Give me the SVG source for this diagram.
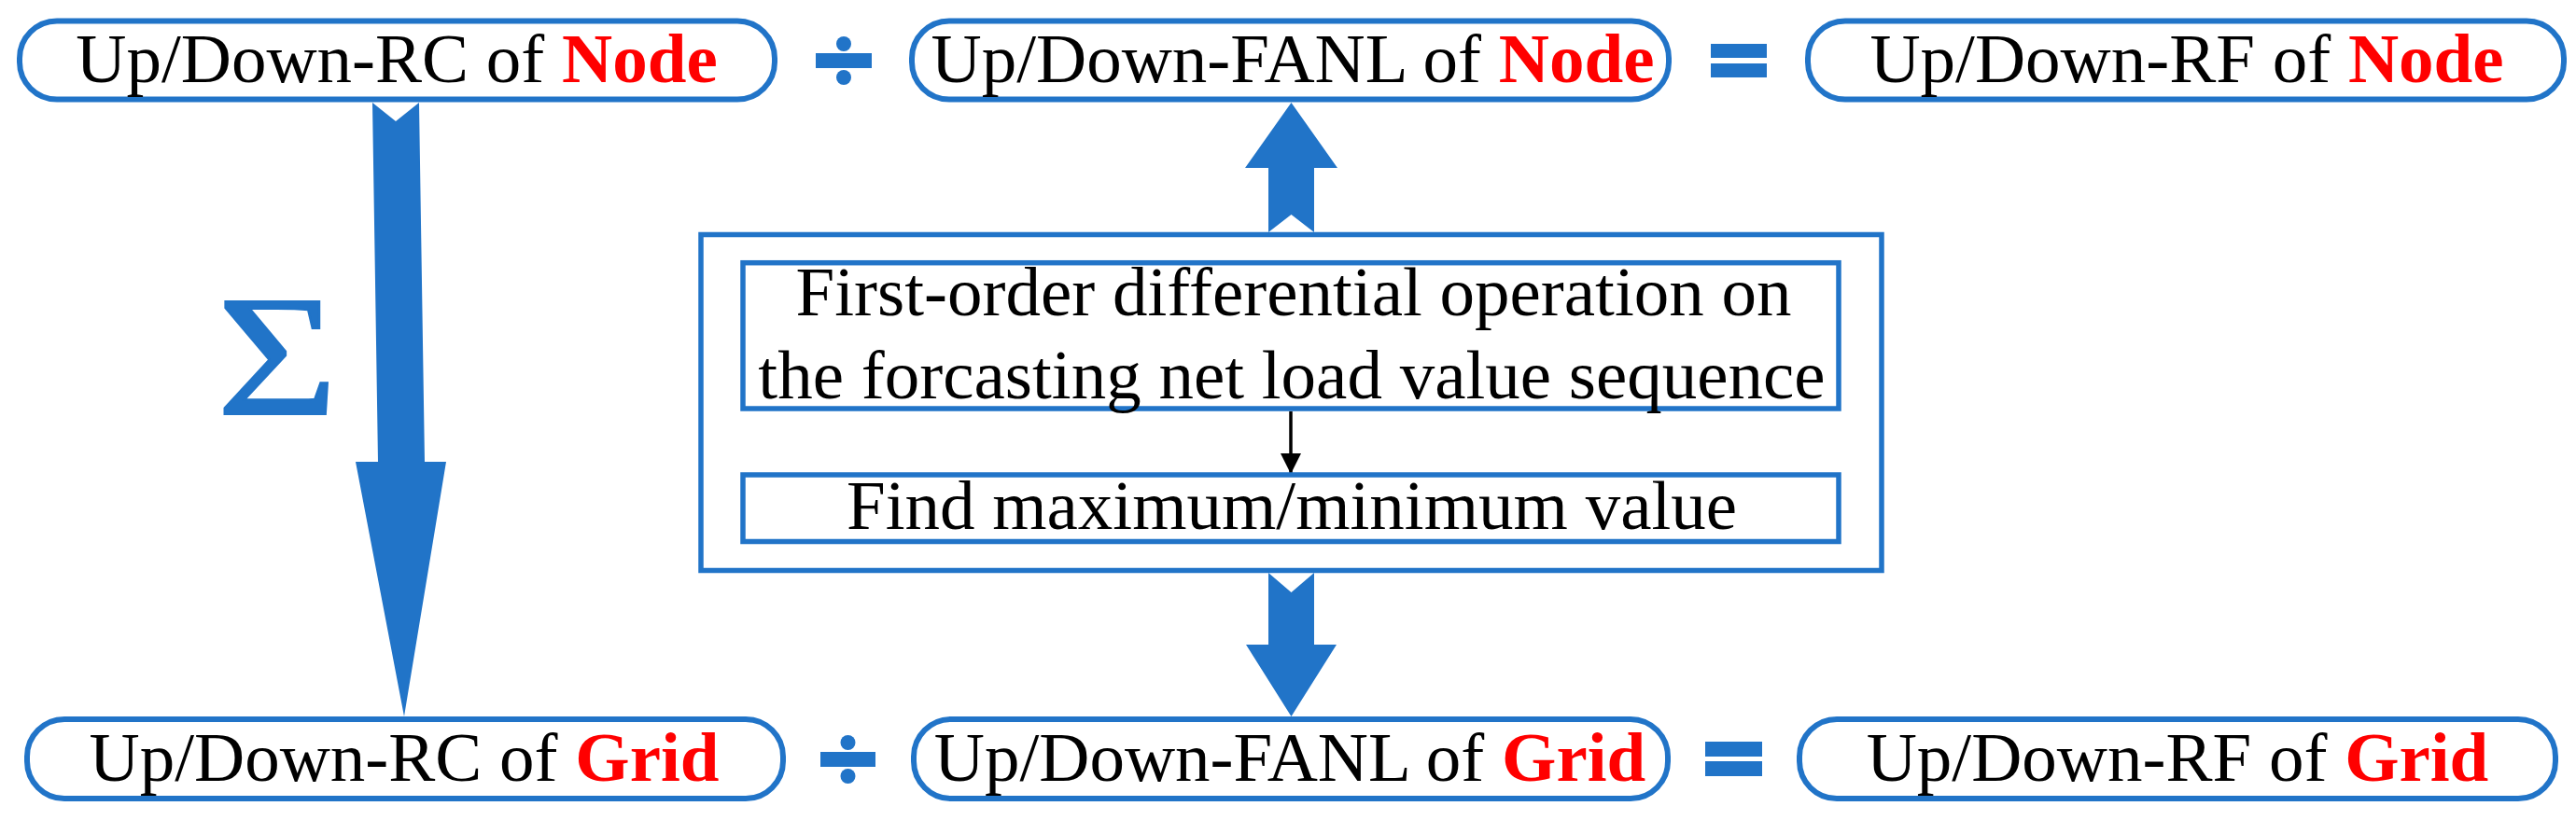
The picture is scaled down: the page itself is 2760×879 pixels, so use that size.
<svg xmlns="http://www.w3.org/2000/svg" width="2760" height="879" viewBox="0 0 2760 879">
<defs>
<style>
.pill{fill:#fff;stroke:#2174c8;stroke-width:6}
.box{fill:none;stroke:#2174c8;stroke-width:5.5}
.t{font-family:"Liberation Serif","Times New Roman",serif;font-size:75px;fill:#000;text-anchor:middle}
.r{fill:#ff0000;font-weight:bold}
.blue{fill:#2174c8}
.blk{stroke:#000;stroke-width:3.5;fill:none}
</style>
<marker id="ah" markerUnits="userSpaceOnUse" markerWidth="22" markerHeight="22" refX="22" refY="11" orient="auto" viewBox="0 0 22 22">
<path d="M0,0 L22,11 L0,22 z" fill="#000"/>
</marker>
</defs>
<rect width="2760" height="879" fill="#fff"/>

<g id="connectors">
<polygon class="blue" points="399,110 424,130 449,110 455,495 478,495 433,768 381,495 405,495"/>
<polygon class="blue" points="1359,249 1359,180 1334,180 1383.5,110 1433,180 1408,180 1408,249 1383.5,230"/>
<polygon class="blue" points="1359,614 1383.5,635 1408,614 1408,691 1432,691 1383.5,768 1335,691 1359,691"/>
<line class="blk" x1="1383" y1="441" x2="1383" y2="508" marker-end="url(#ah)"/>
<text id="sigma" x="232" y="444" font-family="'Liberation Serif','Times New Roman',serif" font-size="185" class="blue" stroke="#2174c8" stroke-width="2" textLength="130" lengthAdjust="spacingAndGlyphs">Σ</text>
</g>

<g id="operators">
<g id="div-top" class="blue">
<rect x="874" y="57" width="60" height="16"/>
<circle cx="904" cy="47" r="8"/>
<circle cx="904" cy="83" r="8"/>
</g>
<g id="eq-top" class="blue">
<rect x="1833" y="47" width="60" height="15"/>
<rect x="1833" y="68" width="60" height="15"/>
</g>
<g id="div-bottom" class="blue">
<rect x="879" y="806" width="59" height="16"/>
<circle cx="908.5" cy="796" r="8"/>
<circle cx="908.5" cy="832" r="8"/>
</g>
<g id="eq-bottom" class="blue">
<rect x="1827" y="795" width="61" height="16"/>
<rect x="1827" y="816" width="61" height="16"/>
</g>
</g>

<g id="node-rc">
<rect class="pill" x="21" y="22.5" width="809" height="84" rx="40" ry="40"/>
<text class="t" x="425" y="88">Up/Down-RC of <tspan class="r">Node</tspan></text>
</g>
<g id="node-fanl">
<rect class="pill" x="977" y="22.5" width="811" height="84" rx="40" ry="40"/>
<text class="t" x="1385" y="88">Up/Down-FANL of <tspan class="r">Node</tspan></text>
</g>
<g id="node-rf">
<rect class="pill" x="1937" y="22.5" width="810" height="84" rx="40" ry="40"/>
<text class="t" x="2343" y="88">Up/Down-RF of <tspan class="r">Node</tspan></text>
</g>

<g id="process">
<rect class="box" x="751" y="251.5" width="1265" height="360"/>
</g>
<g id="diff-op">
<rect class="box" x="796" y="281.7" width="1174" height="156.3"/>
<text class="t" x="1386" y="338">First-order differential operation on</text>
<text class="t" x="1384" y="427">the forcasting net load value sequence</text>
</g>
<g id="find-max">
<rect class="box" x="796" y="509" width="1174" height="71.5"/>
<text class="t" x="1384" y="567">Find maximum/minimum value</text>
</g>

<g id="grid-rc">
<rect class="pill" x="29" y="771" width="810" height="85" rx="40" ry="40"/>
<text class="t" x="433" y="837">Up/Down-RC of <tspan class="r">Grid</tspan></text>
</g>
<g id="grid-fanl">
<rect class="pill" x="979" y="771" width="808" height="85" rx="40" ry="40"/>
<text class="t" x="1382" y="837">Up/Down-FANL of <tspan class="r">Grid</tspan></text>
</g>
<g id="grid-rf">
<rect class="pill" x="1928" y="771" width="810" height="85" rx="40" ry="40"/>
<text class="t" x="2333" y="837">Up/Down-RF of <tspan class="r">Grid</tspan></text>
</g>
</svg>
